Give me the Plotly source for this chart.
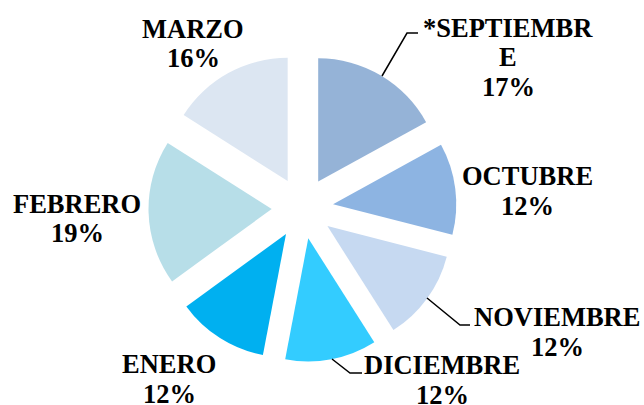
import plotly.graph_objects as go

# ---- data ----
months = ["*SEPTIEMBRE", "OCTUBRE", "NOVIEMBRE", "DICIEMBRE", "ENERO", "FEBRERO", "MARZO"]
shares = [17, 12, 12, 12, 12, 19, 16]
label_lines = [["*SEPTIEMBR", "E"], ["OCTUBRE"], ["NOVIEMBRE"], ["DICIEMBRE"],
               ["ENERO"], ["FEBRERO"], ["MARZO"]]
colors = ["#95B3D7", "#8DB4E2", "#C6D9F1", "#33CCFF", "#00B0F0", "#B7DEE8", "#DCE6F2"]

W, H = 644, 405

def px(x):
    return x / W

def py(y):
    return 1 - y / H

fig = go.Figure(go.Pie(
    labels=months,
    values=shares,
    sort=False,
    direction="clockwise",
    rotation=0,
    pull=[0.25] * len(shares),
    marker=dict(colors=colors, line=dict(width=0)),
    textinfo="none",
    hoverinfo="label+percent",
    domain=dict(x=[px(302.5) - 0.25, px(302.5) + 0.25], y=[py(362), py(54)]),
    showlegend=False,
))

# label block positions (x center, y of first line) in pixels
label_pos = [(508, 28), (527, 176), (557, 317), (442, 365), (169, 364), (77, 204), (193, 29)]
line_gap = 29.5

font = dict(family="Liberation Serif", size=26.5, color="black")
annotations = []
for lines, val, (lx, ly) in zip(label_lines, shares, label_pos):
    all_lines = [f"<b>{t}</b>" for t in lines] + [f"<b>{val}%</b>"]
    for i, t in enumerate(all_lines):
        annotations.append(dict(
            x=px(lx), y=py(ly + i * line_gap), xref="paper", yref="paper",
            text=t, showarrow=False, xanchor="center", yanchor="middle", font=font,
        ))

leaders = [
    [(382, 76), (407, 33), (418, 33)],
    [(427, 298), (460, 325), (470, 325)],
    [(332, 359), (350, 373), (362, 373)],
]
shapes = []
for pts in leaders:
    path = "M " + " L ".join(f"{px(x)},{py(y)}" for x, y in pts)
    shapes.append(dict(type="path", path=path, xref="paper", yref="paper",
                       line=dict(color="black", width=1.5)))

fig.update_layout(
    width=W, height=H,
    margin=dict(l=0, r=0, t=0, b=0),
    paper_bgcolor="white", plot_bgcolor="white",
    annotations=annotations, shapes=shapes,
)

fig.write_html("out.html", config={"displayModeBar": False},
               post_script="document.body.style.margin='0';")
